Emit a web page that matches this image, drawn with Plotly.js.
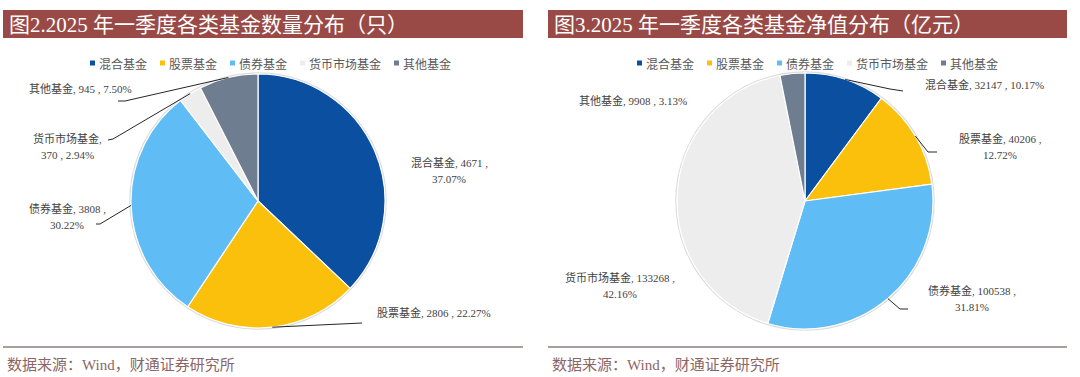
<!DOCTYPE html>
<html><head><meta charset="utf-8">
<script src="https://cdn.plot.ly/plotly-3.0.1.min.js"></script>
<style>html,body{margin:0;padding:0;background:#fff;}#chart{width:1080px;height:377px;}</style>
</head><body><div id="chart"></div>
<script>
// ---------- data ----------
const categories = ['混合基金', '股票基金', '债券基金', '货币市场基金', '其他基金'];
const countValues = [4671, 2806, 3808, 370, 945];      // 只
const navValues = [32147, 40206, 100538, 133268, 9908]; // 亿元
const sliceColors = ['#0A4FA0', '#FBC00B', '#5FBCF5', '#EDEDED', '#6E7D8F'];
const panelTitles = ['图2.2025 年一季度各类基金数量分布（只）', '图3.2025 年一季度各类基金净值分布（亿元）'];
const sourceText = '数据来源：Wind，财通证券研究所';

// ---------- layout config ----------
const W = 1080, H = 377;
const px = x => x / W, py = y => 1 - y / H;
const SERIF = '"Liberation Serif", "Noto Sans CJK SC", serif';
const SANS = '"Noto Sans CJK SC", sans-serif';

const panels = [
  { values: countValues, cx: 258, cy: 201, r: 127, left: 3, right: 523,
    labels: [
      { mode: 'pct',  x: 449, y: 162 },
      { mode: 'one',  x: 434, y: 312, elbow: [362, 323] },
      { mode: 'pct',  x: 67,  y: 208, elbow: [100, 224], end: [96, 224] },
      { mode: 'name', x: 67,  y: 138, elbow: [113, 139], end: [108, 140] },
      { mode: 'one',  x: 80,  y: 88,  elbow: [125, 101], end: [118, 101] }
    ] },
  { values: navValues, cx: 805, cy: 201, r: 128, left: 548, right: 1067,
    labels: [
      { mode: 'one',  x: 984, y: 84,  elbow: [890, 89], end: [903, 91] },
      { mode: 'pct',  x: 1000, y: 138, elbow: [928, 152], end: [937, 152] },
      { mode: 'pct',  x: 972, y: 290, elbow: [900, 309], end: [908, 309] },
      { mode: 'pct',  x: 620, y: 277 },
      { mode: 'one',  x: 633, y: 100 }
    ] }
];

const traces = [];
const shapes = [];
const annotations = [];

panels.forEach((p, pi) => {
  // pie
  traces.push({
    type: 'pie',
    labels: categories,
    values: p.values,
    sort: false,
    direction: 'clockwise',
    rotation: 0,
    textinfo: 'none',
    hoverinfo: 'label+value+percent',
    marker: { colors: sliceColors, line: { color: '#ffffff', width: 1.2 } },
    domain: { x: [px(p.cx - p.r), px(p.cx + p.r)], y: [py(p.cy + p.r), py(p.cy - p.r)] },
    showlegend: false
  });
  // faint outline (shadow-like edge)
  shapes.push({ type: 'circle', xref: 'paper', yref: 'paper', layer: 'below',
    x0: px(p.cx - p.r - 1), x1: px(p.cx + p.r + 1), y0: py(p.cy + p.r + 1), y1: py(p.cy - p.r - 1),
    line: { color: '#dcdcdc', width: 1.5 } });

  // header bar
  shapes.push({ type: 'rect', xref: 'paper', yref: 'paper', x0: px(p.left), x1: px(p.right),
    y0: py(38), y1: py(10), fillcolor: '#9A4A46', line: { width: 0 } });
  annotations.push({ xref: 'paper', yref: 'paper', x: px(p.left + 4), y: py(24.5), xanchor: 'left', yanchor: 'middle',
    showarrow: false, text: panelTitles[pi], font: { family: SERIF, size: 21, color: '#ffffff' } });

  // bottom rule + source
  shapes.push({ type: 'line', xref: 'paper', yref: 'paper', x0: px(p.left), x1: px(p.right),
    y0: py(347), y1: py(347), line: { color: '#A89E9E', width: 2 } });
  annotations.push({ xref: 'paper', yref: 'paper', x: px(p.left + 2), y: py(365), xanchor: 'left', yanchor: 'middle',
    showarrow: false, text: sourceText, font: { family: SERIF, size: 15, color: '#8C6666' } });

  // legend
  let m = p.cx - 168;
  categories.forEach((c, i) => {
    shapes.push({ type: 'rect', xref: 'paper', yref: 'paper', x0: px(m), x1: px(m + 5),
      y0: py(65.5), y1: py(60.5), fillcolor: sliceColors[i], line: { width: 0 } });
    annotations.push({ xref: 'paper', yref: 'paper', x: px(m + 7), y: py(63), xanchor: 'left', yanchor: 'middle',
      showarrow: false, text: c, font: { family: SANS, size: 12, color: '#595959' } });
    m += 12 * c.length + 22;
  });

  // data labels + leader lines
  const total = p.values.reduce((a, b) => a + b, 0);
  let cum = 0;
  p.values.forEach((v, i) => {
    const mid = (cum + v / 2) / total;
    cum += v;
    const pct = (v / total * 100).toFixed(2) + '%';
    const L = p.labels[i];
    let lines;
    if (L.mode === 'one') lines = [categories[i] + ', ' + v + ' , ' + pct];
    else if (L.mode === 'pct') lines = [categories[i] + ', ' + v + ' ,', pct];
    else lines = [categories[i] + ',', v + ' , ' + pct];
    lines.forEach((t, k) => {
      annotations.push({ xref: 'paper', yref: 'paper', x: px(L.x), y: py(L.y + k * 17),
        xanchor: 'center', yanchor: 'middle', showarrow: false, text: t,
        font: { family: SERIF, size: 11, color: '#3F3F3F' } });
    });
    if (L.elbow) {
      const th = 2 * Math.PI * mid;
      const sx = p.cx + p.r * Math.sin(th), sy = p.cy - p.r * Math.cos(th);
      let path = 'M' + px(sx) + ',' + py(sy) + ' L' + px(L.elbow[0]) + ',' + py(L.elbow[1]);
      if (L.end) path += ' L' + px(L.end[0]) + ',' + py(L.end[1]);
      shapes.push({ type: 'path', xref: 'paper', yref: 'paper', path: path,
        line: { color: '#262626', width: 1 } });
    }
  });
});

const layout = {
  width: W, height: H,
  margin: { l: 0, r: 0, t: 0, b: 0 },
  paper_bgcolor: '#ffffff',
  showlegend: false,
  shapes: shapes,
  annotations: annotations
};

Plotly.newPlot('chart', traces, layout, { displayModeBar: false, staticPlot: true });
</script>
</body></html>
